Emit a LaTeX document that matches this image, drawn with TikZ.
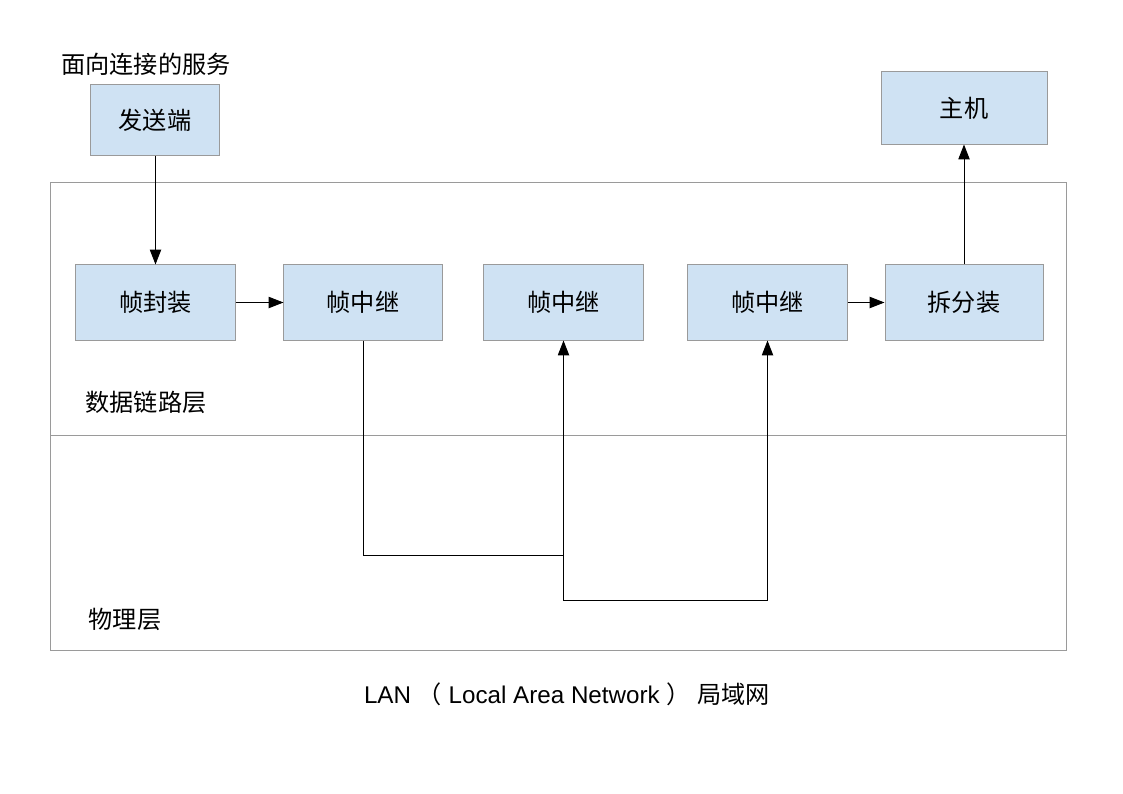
\documentclass[tikz,border=0pt]{standalone}
\usepackage{fontspec}
\setmainfont{Liberation Sans}
\newfontfamily\cjk{Noto Sans CJK SC}
\usepackage{tikz}
\usetikzlibrary{arrows.meta}
\usepackage{xcolor}
\definecolor{boxfill}{HTML}{CFE2F3}
\definecolor{boxline}{HTML}{9A9A9A}

\begin{document}
\begin{tikzpicture}[x=0.025cm, y=-0.025cm,
    every node/.style={font=\cjk\fontsize{17.2}{20}\selectfont},
    layerbox/.style={draw=boxline, fill=boxfill, line width=0.7pt, inner sep=0pt},
    link/.style={draw=black, line width=0.7pt},
    arr/.style={link, -{Triangle[length=10.5pt,width=8pt]}}]
    \useasboundingbox (0,0) rectangle (1123,794);
    % layers
    \draw[boxline, line width=0.7pt] (50,182) rectangle (1066,650);
    \draw[boxline, line width=0.7pt] (50,435) -- (1066,435);
    \node (dll) at (146,402) {数据链路层};
    \node (phy) at (125,619) {物理层};
    % boxes
    \node (title) at (146,64) {面向连接的服务};
    \node[layerbox, minimum width=3.2cm, minimum height=1.75cm] (send) at (155,120) {发送端};
    \node[layerbox, minimum width=4.15cm, minimum height=1.8cm] (host) at (964,108) {主机};
    \node[layerbox, minimum width=3.975cm, minimum height=1.875cm] (encap) at (155.5,302.5) {帧封装};
    \node[layerbox, minimum width=3.95cm, minimum height=1.875cm] (relayA) at (363,302.5) {帧中继};
    \node[layerbox, minimum width=3.975cm, minimum height=1.875cm] (relayB) at (563.5,302.5) {帧中继};
    \node[layerbox, minimum width=3.975cm, minimum height=1.875cm] (relayC) at (767.5,302.5) {帧中继};
    \node[layerbox, minimum width=3.95cm, minimum height=1.875cm] (decap) at (964,302.5) {拆分装};
    % connectors
    \coordinate (split) at (563.5,555);
    \draw[arr] (send.south -| encap.north) -- (encap.north);
    \draw[arr] (encap) -- (relayA);
    \draw[arr] (relayC) -- (decap);
    \draw[arr] (decap.north) -- (host.south);
    \draw[link] (relayA.south) |- (split);
    \draw[arr] (split) -- (relayB.south);
    \draw[arr] (split) -- (563.5,600) -| (relayC.south);
    \node (caption) at (567,694) {\rmfamily LAN {\cjk （} Local Area Network {\cjk ）} {\cjk 局域网}};
\end{tikzpicture}
\end{document}
